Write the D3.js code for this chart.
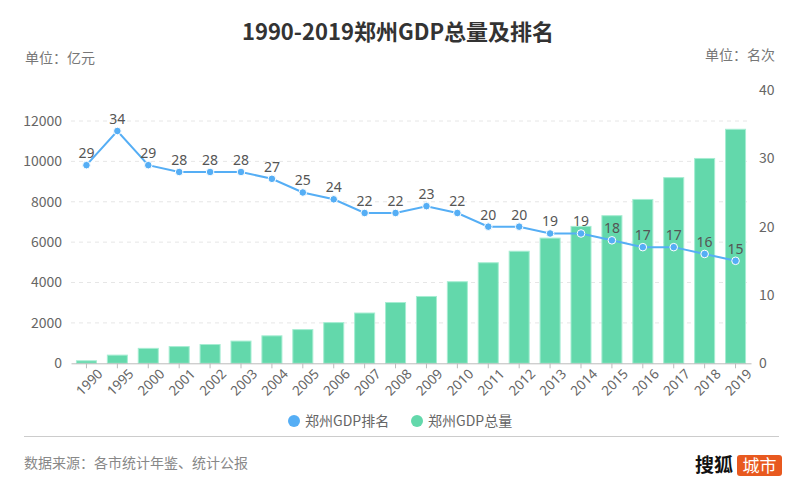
<!DOCTYPE html>
<html><head><meta charset="utf-8">
<script src="https://cdn.jsdelivr.net/npm/d3@7"></script>
<style>
body{margin:0;background:#fff;}
svg{display:block;font-family:"Noto Sans CJK SC","Noto Sans",sans-serif;}
</style></head><body>
<svg id="c" width="800" height="494"></svg>
<script>
const years = ["1990","1995","2000","2001","2002","2003","2004","2005","2006","2007","2008","2009","2010","2011","2012","2013","2014","2015","2016","2017","2018","2019"];
const gdp = [125,405,740,828,930,1100,1360,1670,2015,2490,3010,3310,4040,4980,5550,6200,6780,7310,8115,9195,10145,11590];
const rank = [29,34,29,28,28,28,27,25,24,22,22,23,22,20,20,19,19,18,17,17,16,15];
const leftTicks = [0,2000,4000,6000,8000,10000,12000];
const rightTicks = [0,10,20,30,40];

const svg = d3.select("#c");
const x = d3.scaleBand().domain(years).range([71, 751]).paddingInner(0.32).paddingOuter(0.16);
const yL = d3.scaleLinear().domain([0,12000]).range([363.3,121]);
const yR = d3.scaleLinear().domain([0,40]).range([363.3,90]);

// title
svg.append("text").attr("x",398).attr("y",40).attr("text-anchor","middle")
  .attr("font-size",22).attr("font-weight","bold").attr("fill","#333").text("1990-2019郑州GDP总量及排名");
svg.append("text").attr("x",25).attr("y",63).attr("font-size",14).attr("fill","#777").text("单位：亿元");
svg.append("text").attr("x",775).attr("y",60).attr("text-anchor","end").attr("font-size",14).attr("fill","#777").text("单位：名次");

// grid
svg.append("g").selectAll("line").data(leftTicks.slice(1)).join("line")
  .attr("x1",71).attr("x2",751).attr("y1",d=>yL(d)).attr("y2",d=>yL(d))
  .attr("stroke","#e6e6e6").attr("stroke-dasharray","4,4");

// left axis labels
svg.append("g").selectAll("text").data(leftTicks).join("text")
  .attr("x",62).attr("y",d=>yL(d)).attr("dy","0.35em").attr("text-anchor","end")
  .attr("font-size",14).attr("fill","#666").text(d=>d);
// right axis labels
svg.append("g").selectAll("text").data(rightTicks).join("text")
  .attr("x",759).attr("y",d=>yR(d)).attr("dy","0.35em").attr("text-anchor","start")
  .attr("font-size",14).attr("fill","#666").text(d=>d);

// bars
svg.append("g").selectAll("rect").data(years).join("rect")
  .attr("x",d=>x(d)+0.5).attr("width",x.bandwidth()-1)
  .attr("y",(d,i)=>yL(gdp[i])).attr("height",(d,i)=>yL(0)-yL(gdp[i]))
  .attr("fill","#63d8ab").attr("stroke","#a6edd2").attr("stroke-width",1);

// x axis
const xa = svg.append("g").attr("transform","translate(0,363.3)")
  .call(d3.axisBottom(x).tickSize(5).tickSizeOuter(0));
xa.select(".domain").attr("stroke","#bbb");
xa.selectAll(".tick line").attr("stroke","#bbb");
xa.selectAll(".tick text").attr("font-size",13.5).attr("fill","#666")
  .attr("font-family","'Noto Sans',sans-serif")
  .attr("text-anchor","end").attr("dx","0.3em").attr("dy","0.9em")
  .attr("transform","rotate(-45)");

// line
const cx = d => x(d)+x.bandwidth()/2;
svg.append("path").datum(years)
  .attr("d", d3.line().x(d=>cx(d)).y((d,i)=>yR(rank[i])))
  .attr("fill","none").attr("stroke","#55aef5").attr("stroke-width",2);
svg.append("g").selectAll("circle").data(years).join("circle")
  .attr("cx",cx).attr("cy",(d,i)=>yR(rank[i])).attr("r",3.8)
  .attr("fill","#55aef5").attr("stroke","#fff").attr("stroke-width",1);
svg.append("g").selectAll("text").data(years).join("text")
  .attr("x",cx).attr("y",(d,i)=>yR(rank[i])-7).attr("text-anchor","middle")
  .attr("font-size",14).attr("fill","#555").attr("font-family","'Noto Sans',sans-serif")
  .text((d,i)=>rank[i]);

// legend
const lg = svg.append("g");
lg.append("circle").attr("cx",294).attr("cy",421).attr("r",6).attr("fill","#55aef5");
lg.append("text").attr("x",305).attr("y",421).attr("dy","0.35em").attr("font-size",14).attr("fill","#666").text("郑州GDP排名");
lg.append("circle").attr("cx",417).attr("cy",421).attr("r",6).attr("fill","#63d8ab");
lg.append("text").attr("x",428).attr("y",421).attr("dy","0.35em").attr("font-size",14).attr("fill","#666").text("郑州GDP总量");

svg.append("line").attr("x1",24).attr("x2",779).attr("y1",436.5).attr("y2",436.5).attr("stroke","#ccc");
svg.append("text").attr("x",24).attr("y",468).attr("font-size",14).attr("fill","#888").text("数据来源：各市统计年鉴、统计公报");

// logo
svg.append("text").attr("x",695).attr("y",472).attr("font-size",19).attr("font-weight","bold").attr("fill","#111").text("搜狐");
svg.append("rect").attr("x",737).attr("y",455).attr("width",45).attr("height",21).attr("rx",3).attr("fill","#e8591f");
svg.append("text").attr("x",759.5).attr("y",471.5).attr("text-anchor","middle").attr("font-size",17).attr("fill","#fff").text("城市");
</script>
</body></html>
